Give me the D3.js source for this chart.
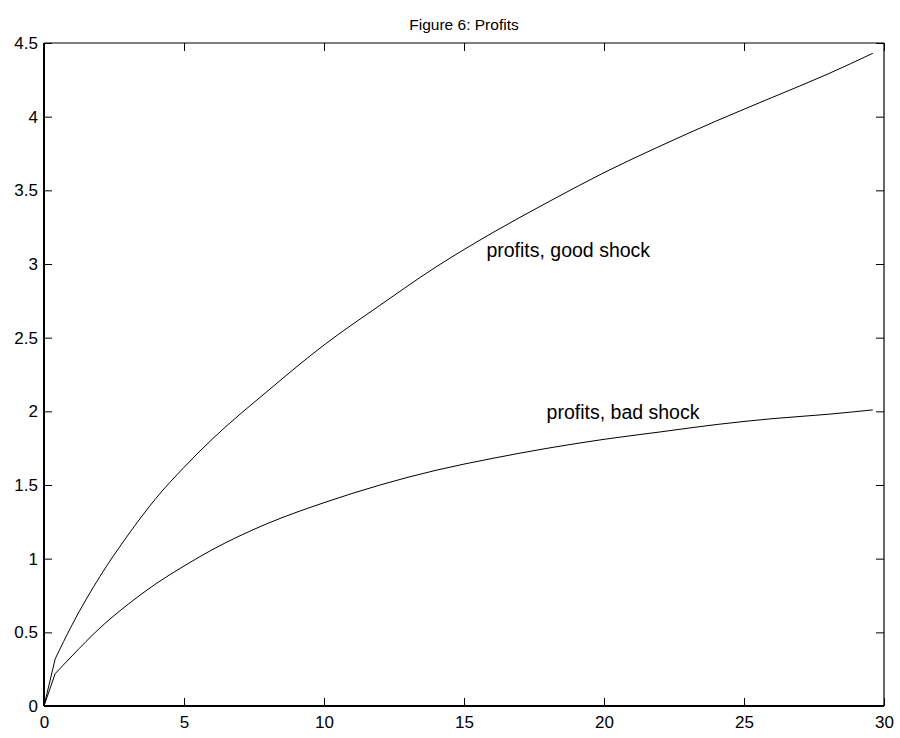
<!DOCTYPE html>
<html><head><meta charset="utf-8">
<script src="https://cdn.jsdelivr.net/npm/d3@7"></script>
<style>body{margin:0;background:#fff}svg{display:block;font-family:"Liberation Sans",Arial,sans-serif}</style>
</head><body><svg id="c" width="900" height="738"></svg>
<script>
const title = "Figure 6: Profits";
const periods = [0, 0.4, 1, 2, 3, 4, 5, 6, 8, 10, 12, 14, 16, 18, 20, 22, 24, 26, 28, 29.6];
const goodShock = [0, 0.32, 0.55, 0.88, 1.16, 1.41, 1.62, 1.81, 2.14, 2.45, 2.72, 2.98, 3.21, 3.42, 3.62, 3.80, 3.97, 4.13, 4.29, 4.43];
const badShock  = [0, 0.22, 0.34, 0.53, 0.69, 0.83, 0.95, 1.06, 1.24, 1.38, 1.50, 1.60, 1.68, 1.75, 1.81, 1.86, 1.91, 1.95, 1.98, 2.01];
const xTicks = [0, 5, 10, 15, 20, 25, 30];
const yTicks = [0, 0.5, 1, 1.5, 2, 2.5, 3, 3.5, 4, 4.5];
const labels = [
  {text: "profits, good shock", x: 15.8, y: 3.05},
  {text: "profits, bad shock", x: 17.95, y: 1.95}
];

const svg = d3.select("#c");
const L = 44, R = 884, T = 43, B = 706;
const x = d3.scaleLinear().domain([0, 30]).range([L, R]);
const y = d3.scaleLinear().domain([0, 4.5]).range([B, T]);

const tickFmt = d => d3.format("")(d);
function styleAxis(g){
  g.select(".domain").remove();
  g.selectAll(".tick line").attr("stroke", "#000").attr("stroke-width", 1);
  g.selectAll(".tick text").attr("font-size", 17).attr("fill", "#000")
   .attr("font-family", "Liberation Sans, Arial, sans-serif");
}
svg.append("g").attr("transform", `translate(0,${B})`)
  .call(d3.axisBottom(x).tickValues(xTicks).tickFormat(tickFmt).tickSizeInner(-8).tickSizeOuter(0).tickPadding(10))
  .call(styleAxis);
svg.append("g").attr("transform", `translate(0,${T})`)
  .call(d3.axisTop(x).tickValues(xTicks).tickFormat("").tickSizeInner(-8).tickSizeOuter(0))
  .call(styleAxis);
svg.append("g").attr("transform", `translate(${L},0)`)
  .call(d3.axisLeft(y).tickValues(yTicks).tickFormat(tickFmt).tickSizeInner(-8).tickSizeOuter(0).tickPadding(6))
  .call(styleAxis);
svg.append("g").attr("transform", `translate(${R},0)`)
  .call(d3.axisRight(y).tickValues(yTicks).tickFormat("").tickSizeInner(-8).tickSizeOuter(0))
  .call(styleAxis);

svg.append("line").attr("x1", L).attr("x2", R).attr("y1", T).attr("y2", T).attr("stroke", "#000").attr("stroke-width", 1);
svg.append("line").attr("x1", R).attr("x2", R).attr("y1", T).attr("y2", B).attr("stroke", "#000").attr("stroke-width", 1.2);
svg.append("line").attr("x1", L).attr("x2", R).attr("y1", B).attr("y2", B).attr("stroke", "#000").attr("stroke-width", 2);
svg.append("line").attr("x1", L).attr("x2", L).attr("y1", T).attr("y2", B).attr("stroke", "#000").attr("stroke-width", 2);

const smooth = d3.line().x(d => x(d[0])).y(d => y(d[1])).curve(d3.curveMonotoneX);
const straight = d3.line().x(d => x(d[0])).y(d => y(d[1]));
[goodShock, badShock].forEach(s => {
  const pts = periods.map((p, i) => [p, s[i]]);
  // first step drawn straight (kink as in the original), rest smooth
  const d = straight(pts.slice(0, 2)) + smooth(pts.slice(1)).replace(/^M/, "L");
  svg.append("path").attr("d", d).attr("fill", "none").attr("stroke", "#000").attr("stroke-width", 1);
});

labels.forEach(l => {
  svg.append("text").attr("x", x(l.x)).attr("y", y(l.y)).attr("font-size", 19.5)
    .attr("fill", "#000").text(l.text);
});

svg.append("text").attr("x", (L + R) / 2).attr("y", 30).attr("text-anchor", "middle")
  .attr("font-size", 15.5).attr("fill", "#000").text(title);
</script></body></html>
